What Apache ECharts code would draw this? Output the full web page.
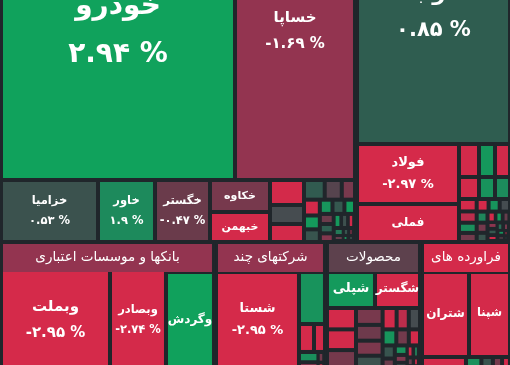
<!DOCTYPE html>
<html>
<head>
<meta charset="utf-8">
<script src="https://cdn.jsdelivr.net/npm/echarts@6/dist/echarts.min.js"></script>
<style>
html,body{margin:0;padding:0;background:#20262b;}
#c{width:510px;height:365px;}
</style>
</head>
<body>
<div id="c"></div>
<script>
// ---------------- data ----------------
const sectorNames  = ['خودرو و ساخت قطعات', 'فلزات اساسی', 'بانکها و موسسات اعتباری', 'شرکتهای چند', 'محصولات', 'فراورده های'];
const sectorChange = [1.2, -0.5, -1.7, -1.7, -0.3, -2.8];

const autoNames  = ['خودرو','خساپا','خزامیا','خاور','خگستر','خکاوه','خبهمن','خپارس','خمحور','خریخت',
  'خمهر','خفنر','ختوقا','خلنت','خموتور','خرینگ','خچرخش','ختور','خکمک','خمحرکه','خاهن','خشرق','خنصیر','ختراک','خدیزل','خوساز','خپویش','خعمرا','خرادیا','خکرمان','خصدرا'];
const autoValues = [75581, 38759, 6518, 3830, 3696, 2081, 1951, 921, 700, 663,
  442, 364, 282, 271, 238, 217, 195, 184, 163, 152, 141, 130, 119, 108, 98, 87, 65, 54, 43, 38, 36];
const autoChange = [2.94, -1.69, 0.53, 1.9, -0.47, -0.85, -2.61, -2.35, 0.05, -2.2,
  0.8, -0.2, -0.9, -2.2, 2.6, 0.6, 2.4, 0.7, 2.8, -0.5, 0.9, -1.2, 2.5, 0.4, -2.1, 1.5, -0.4, 0.6, -1.8, 2.2, 0.3];

const metalNames  = ['ذوب','فولاد','فملی','فخوز','کاوه','فایرا','فسپا','فنورد','فجر',
  'فاسمین','فسرب','فلامی','فروی','فباهنر','فنوال','فالوم','فزر','فگستر','فرآور','فوکا','فخاس','فسازان','فولای','فاما','هرمز','فپنتا','فجهان','فمراد','فکمند','فافزا','فاذر'];
const metalValues = [43769, 6682, 4232, 721, 577, 540, 480, 384, 360,
  240, 218, 197, 175, 164, 153, 142, 131, 120, 109, 98, 87, 82, 76, 71, 66, 60, 55, 49, 44, 33, 25];
const metalChange = [0.85, -2.97, -2.6, -2.4, 2.5, -2.1, -2.2, 2.3, 2.0,
  -2.3, -1.9, 2.1, -0.7, -2.5, 2.4, 0.1, 1.8, -0.8, 0.6, -2.2, 2.6, -0.4, -1.5, 0.7, -2.0, 1.2, -0.9, 2.2, -0.3, -2.4, 0.5];

const bankNames  = ['وبملت','وبصادر','وگردش'];
const bankValues = [14083, 7235, 6202];
const bankChange = [-2.95, -2.74, 2.9];

const multiNames  = ['شستا','وامید','وصندوق','وسپه','وتوصا','وصنا','وبشهر','وپترو'];
const multiValues = [10819, 1830, 547, 401, 261, 196, 91, 63];
const multiChange = [-2.95, 2.3, -2.5, -2.2, 2.1, -1.6, -0.7, -2.4];

const chemNames  = ['شپلی','شگستر','شپدیس','شفن','شاراک',
  'شخارک','شکلر','شسپا','شبهرن','شپاکسا','شفارس','شغدیر','شصدف','شیراز','شلعاب','شکربن','شجم','شسینا','شوینده','شپارس','شدوص','شتوکا','شگویا','شمواد','شسم'];
const chemValues = [2385, 2236, 811, 785, 756,
  588, 549, 523, 497, 392, 340, 314, 288, 262, 235, 209, 183, 157, 131, 118, 105, 92, 78, 65, 63];
const chemChange = [2.6, -2.9, -2.3, -2.1, -0.8,
  -0.9, -0.6, -1.0, 0.5, -2.2, -1.9, 0.1, 2.4, -0.7, -2.5, 0.6, -0.5, 2.2, -1.1, 0.3, -2.0, 1.6, -0.4, -2.6, 0.9];

const refNames  = ['شتران','شپنا','شبندر','شبریز','شاوان','شرانل','شنفت'];
const refValues = [5353, 4670, 749, 262, 196, 157, 134];
const refChange = [-2.8, -2.7, -2.4, 2.2, 0.6, -0.8, -2.3];

// ---------------- styling ----------------
const BG = '#20262b';
const FONT = 'DejaVu Sans';
// label display: 2 = name + percent, 1 = name only
const labelMode = {'خودرو':2,'خساپا':2,'ذوب':2,'فولاد':2,'خزامیا':2,'خاور':2,'خگستر':2,'وبملت':2,'وبصادر':2,'شستا':2,
  'فملی':1,'خکاوه':1,'خبهمن':1,'وگردش':1,'شپلی':1,'شگستر':1,'شتران':1,'شپنا':1};
const labelSize = {'خودرو':28,'ذوب':21,'خساپا':15,'فولاد':13,'فملی':12,'خزامیا':11.5,'خاور':11.5,'خگستر':11.5,'خکاوه':11,'خبهمن':11,
  'وبملت':15,'وبصادر':11.5,'وگردش':12,'شستا':13,'شپلی':13,'شگستر':12,'شتران':12,'شپنا':11.5};
// banks: invisible layout grouping
const bankGroups = [['وبملت','وبصادر'], ['وگردش']];

const stops = [[-3,'#d52a4a'],[-2,'#d22a4a'],[-1.7,'#933450'],[-0.47,'#6a3b4b'],[0,'#474b50'],[0.53,'#3b524e'],[0.85,'#2f5d50'],[1.9,'#1d8a5c'],[3,'#0fa35c']];
function hex(c){return [parseInt(c.slice(1,3),16),parseInt(c.slice(3,5),16),parseInt(c.slice(5,7),16)];}
function colorOf(v){
  if (v <= stops[0][0]) return stops[0][1];
  for (let i = 1; i < stops.length; i++) {
    if (v <= stops[i][0]) {
      const t = (v - stops[i-1][0]) / (stops[i][0] - stops[i-1][0]);
      const a = hex(stops[i-1][1]), b = hex(stops[i][1]);
      return 'rgb(' + a.map((x,k)=>Math.round(x + (b[k]-x)*t)).join(',') + ')';
    }
  }
  return stops[stops.length-1][1];
}
function pct(v){
  const s = String(Math.abs(v)).replace(/\d/g, d => '۰۱۲۳۴۵۶۷۸۹'[d]);
  return (v < 0 ? '-' : '') + s + ' %';
}
function leaf(name, value, change){
  const item = { name, value, change, itemStyle: { color: colorOf(change) } };
  if (labelMode[name]) {
    const fs = labelSize[name];
    item.label = { show: true, fontSize: fs, lineHeight: Math.round(fs * 1.7) };
  } else {
    item.label = { show: false };
  }
  return item;
}
function sector(i, names, values, changes, groups){
  let children = names.map((n, k) => leaf(n, values[k], changes[k]));
  if (groups) {
    children = groups.map(g => {
      const members = children.filter(c => g.indexOf(c.name) >= 0);
      if (members.length === 1) return members[0];
      return { name: g.join('، '), children: members,
        itemStyle: { borderWidth: 0, gapWidth: 4, borderColor: BG },
        upperLabel: { show: false }, label: { show: false } };
    });
  }
  return { name: sectorNames[i], change: sectorChange[i], children,
    upperLabel: { backgroundColor: colorOf(sectorChange[i]) } };
}

const data = [
  sector(0, autoNames, autoValues, autoChange),
  sector(1, metalNames, metalValues, metalChange),
  sector(2, bankNames, bankValues, bankChange, bankGroups),
  sector(3, multiNames, multiValues, multiChange),
  sector(4, chemNames, chemValues, chemChange),
  sector(5, refNames, refValues, refChange)
];

const chart = echarts.init(document.getElementById('c'), null, { renderer: 'canvas' });
chart.setOption({
  backgroundColor: BG,
  animation: false,
  tooltip: { show: false },
  series: [{
    type: 'treemap',
    left: 1, top: -144, width: 509, height: 514,
    roam: false,
    nodeClick: false,
    squareRatio: 1.4,
    sort: 'desc',
    visibleMin: 1,
    drillDownIcon: '',
    breadcrumb: { show: false },
    itemStyle: { borderWidth: 0, gapWidth: 4, borderColor: BG },
    label: {
      show: true, position: 'inside', padding: 0, color: '#fff',
      fontFamily: FONT, fontWeight: 'bold', overflow: 'none',
      formatter: p => labelMode[p.name] === 2 ? p.name + '\n' + pct(p.data.change) : p.name
    },
    upperLabel: { show: false },
    levels: [
      { itemStyle: { borderWidth: 0, gapWidth: 2, borderColor: BG } },
      { itemStyle: { borderWidth: 2, gapWidth: 4, borderColor: BG },
        upperLabel: { show: true, height: 28, position: 'inside', padding: 0, color: '#fff',
          fontFamily: FONT, fontSize: 13.5, borderColor: BG, borderWidth: 2, overflow: 'truncate', ellipsis: '' } }
    ],
    data: data
  }]
});
</script>
</body>
</html>
